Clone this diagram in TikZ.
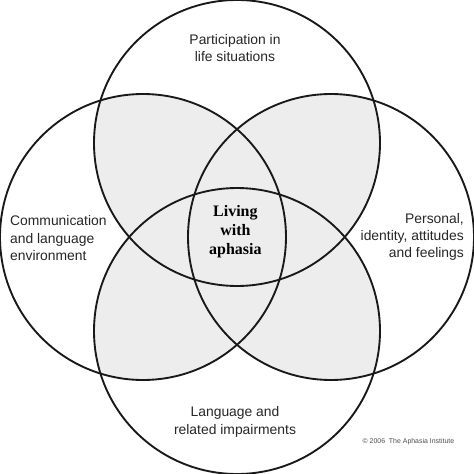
\documentclass[tikz,border=0pt]{standalone}
\usepackage{fontspec}
\setmainfont{Liberation Sans}
\newfontfamily\serifbold{Liberation Serif}
\usepackage{xcolor}
\usepackage{tikz}
\usetikzlibrary{positioning}

\begin{document}
\begin{tikzpicture}[
			ring/.style={draw=black!90, line width=1.35pt},
			overlap/.style={fill=black!7},
			area/.style={font=\fontsize{10}{12.4}\selectfont, inner sep=0pt, text=black!85},
			core/.style={font=\fontsize{11.5}{13.8}\serifbold\bfseries, align=center, inner sep=0pt},
			credit/.style={font=\fontsize{5}{6}\selectfont, text=black!70, inner sep=0pt}
			]
			\useasboundingbox (-6,-6) rectangle (6,6);
			\def\rad{3.62}
			\coordinate (ctop) at (0, 2.38);
			\coordinate (cbot) at (0,-2.38);
			\coordinate (clft) at (-2.38,0);
			\coordinate (crgt) at (2.38,0);
			
			% shade every region shared by two circles or more
			\foreach \a/\b in {ctop/clft, ctop/crgt, ctop/cbot, cbot/clft, cbot/crgt, clft/crgt} {
				\begin{scope}
					\clip (\a) circle (\rad);
					\fill[overlap] (\b) circle (\rad);
				\end{scope}
			}
			\foreach \c in {ctop, cbot, clft, crgt}
				\draw[ring] (\c) circle (\rad);
			
			\node[area, align=center] (part) at (-0.05, 4.79) {Participation in\\life situations};
			\node[area, align=left, anchor=west] (comm) at (-5.75,-0.03) {Communication\\and language\\environment};
			\node[area, align=right, anchor=east] (pers) at (5.75,0) {Personal,\\identity, attitudes\\and feelings};
			\node[area, align=center] (lang) at (-0.05,-4.68) {Language and\\related impairments};
			\node[core] (living) at (-0.04, 0.13) {Living\\with\\aphasia};
			\node[credit] (copy) at (4.34,-5.17) {\textcopyright{} 2006\ \ The Aphasia Institute};
		\end{tikzpicture}
\end{document}
